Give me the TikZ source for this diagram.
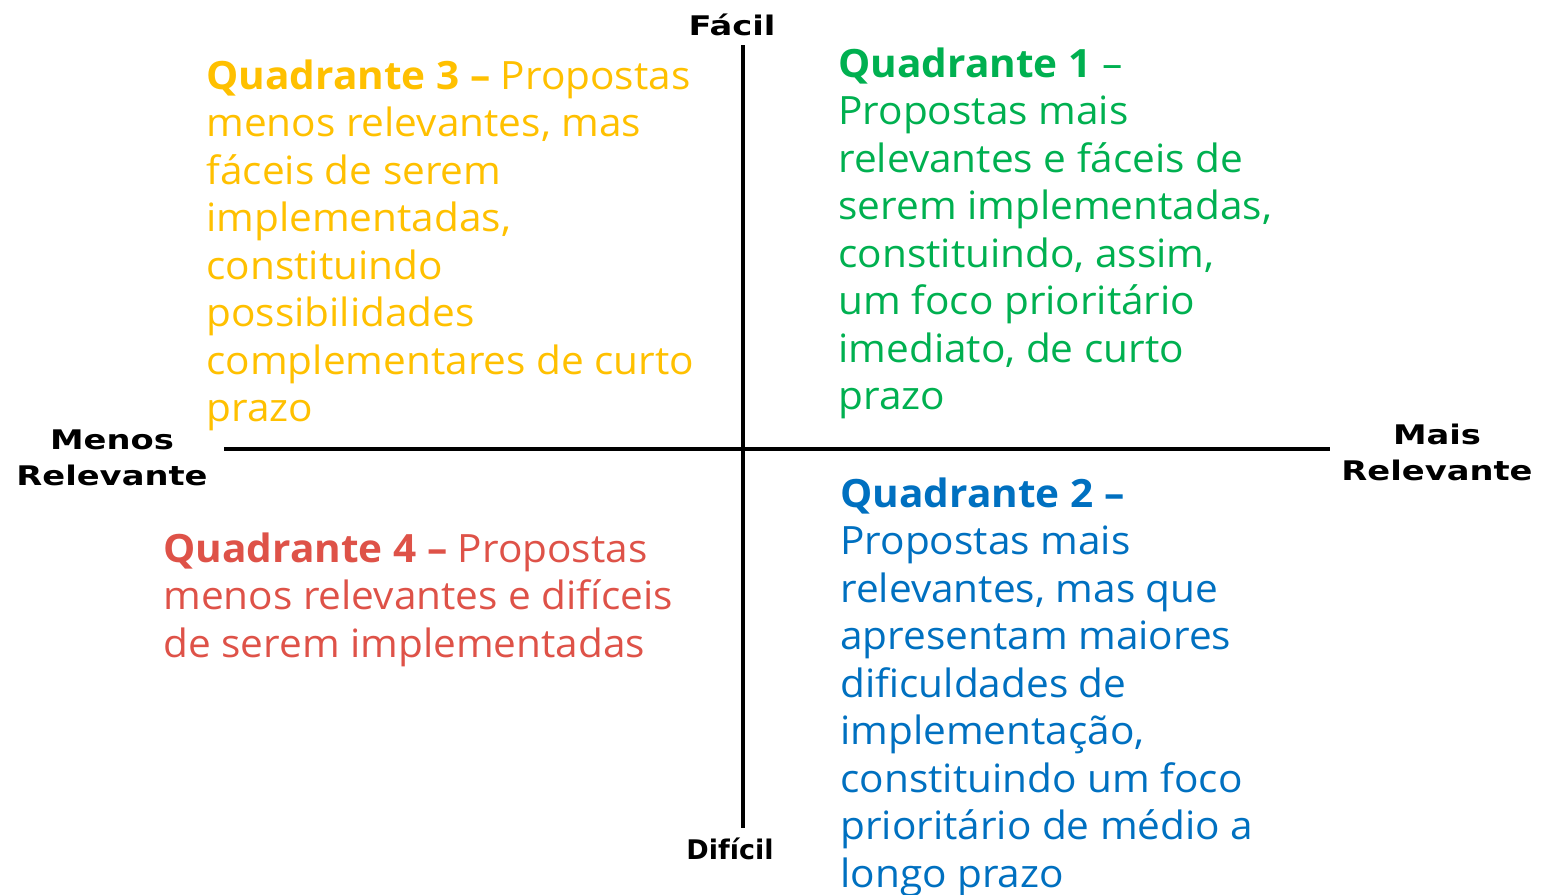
\documentclass[tikz,border=0pt]{standalone}
\usepackage{fontspec}
\setmainfont{Open Sans}[FakeStretch=1.04]
\newfontfamily\axisfont{DejaVu Sans}[FakeStretch=1.25]
\newfontfamily\axisnarrow{DejaVu Sans}
\usepackage{xcolor}
\usetikzlibrary{positioning}
\definecolor{quadum}{RGB}{0,176,80}
\definecolor{quaddois}{RGB}{0,112,192}
\definecolor{quadtres}{RGB}{255,192,0}
\definecolor{quadquatro}{RGB}{222,82,72}
\tikzset{
	quad/.style={
			anchor=north west, inner sep=0pt, align=left,
			font=\fontsize{19.5pt}{23.75pt}\selectfont
		},
	axislabel/.style={
			inner sep=0pt, align=center,
			font=\axisfont\bfseries\fontsize{13.5pt}{18pt}\selectfont
		}
}

\begin{document}
\begin{tikzpicture}[x=0.5pt, y=-0.5pt]
			\useasboundingbox (0, 0) rectangle (1541, 894);

			\coordinate (top)	at (743, 45);
			\coordinate (bottom)	at (743, 828);
			\coordinate (left)	at (224, 449);
			\coordinate (right)	at (1330, 449);

			\draw[line width=2.4pt, black]	(top) to (bottom);
			\draw[line width=2.4pt, black]	(left) to (right);

			\node[axislabel] (facil)	at (732, 25) {Fácil};
			\node[axislabel, font=\axisnarrow\bfseries\fontsize{13.5pt}{18pt}\selectfont] (dificil)	at (730, 849) {Difícil};
			\node[axislabel] (menos)	at (112, 458) {Menos\\Relevante};
			\node[axislabel] (mais)	at (1437, 452) {Mais\\Relevante};

			\node[quad, quadum] (q1)	at (838, 47) {\textbf{Quadrante 1} –\\Propostas mais\\relevantes e fáceis de\\serem implementadas,\\constituindo, assim,\\um foco prioritário\\imediato, de curto\\prazo};
			\node[quad, quaddois] (q2)	at (840, 477) {\textbf{Quadrante 2 –}\\Propostas mais\\relevantes, mas que\\apresentam maiores\\dificuldades de\\implementação,\\constituindo um foco\\prioritário de médio a\\longo prazo};
			\node[quad, quadtres] (q3)	at (206, 59) {\textbf{Quadrante 3 –} Propostas\\menos relevantes, mas\\fáceis de serem\\implementadas,\\constituindo\\possibilidades\\complementares de curto\\prazo};
			\node[quad, quadquatro] (q4)	at (163, 532) {\textbf{Quadrante 4 –} Propostas\\menos relevantes e difíceis\\de serem implementadas};
		\end{tikzpicture}
\end{document}
